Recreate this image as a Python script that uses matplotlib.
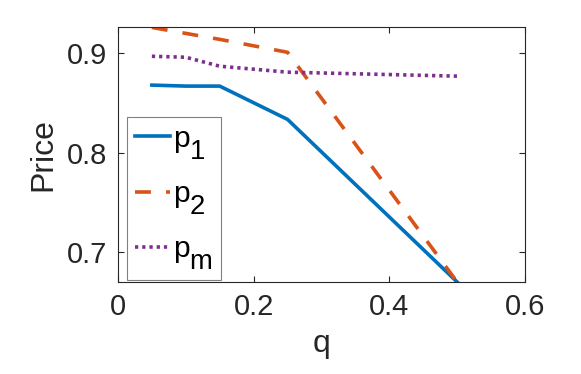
import numpy as np
import matplotlib
matplotlib.use("Agg")
import matplotlib.pyplot as plt
import matplotlib._mathtext as mt

plt.rcParams['font.family'] = ['Liberation Sans', 'DejaVu Sans']
plt.rcParams['mathtext.fontset'] = 'custom'
plt.rcParams['mathtext.rm'] = 'Liberation Sans'
plt.rcParams['mathtext.it'] = 'Liberation Sans'
plt.rcParams['mathtext.default'] = 'regular'

# MATLAB-like subscripts: nearly full size, dropped low
mt.SHRINK_FACTOR = 0.92
mt.FontConstantsBase.sub1 = 0.8
mt.FontConstantsBase.sub2 = 0.8

## data
q = np.array([0.05, 0.10, 0.15, 0.25, 0.50])
p1 = np.array([0.868, 0.867, 0.867, 0.8335, 0.670])
p2 = np.array([0.926, 0.920, 0.914, 0.901, 0.670])
pm = np.array([0.897, 0.896, 0.887, 0.881, 0.877])
labels = ['p$_1$', 'p$_2$', 'p$_m$']

c_blue = '#0072BD'
c_orange = '#D95319'
c_purple = '#7E2F8E'
c_axis = '#262626'

fig = plt.figure(figsize=(5.81, 3.74), dpi=100)
ax = fig.add_axes([0.203, 0.246, 0.7006, 0.682])

ax.plot(q, p1, color=c_blue, lw=2.6, label=labels[0])
ax.plot(q, p2, color=c_orange, lw=2.6, dashes=(4.4, 4.2), label=labels[1])
ax.plot(q, pm, color=c_purple, lw=2.6, dashes=(0.9, 1.1), label=labels[2])

ax.set_xlim(0, 0.6)
ax.set_ylim(0.670, 0.9265)
ax.set_xticks([0, 0.2, 0.4, 0.6])
ax.set_xticklabels(['0', '0.2', '0.4', '0.6'])
ax.set_yticks([0.7, 0.8, 0.9])

ax.tick_params(direction='in', length=4, width=0.8, colors=c_axis,
               labelsize=21, top=True, right=True, pad=8)
for s in ax.spines.values():
    s.set_color(c_axis)
    s.set_linewidth(0.8)

ax.set_xlabel('q', fontsize=23, color=c_axis, labelpad=6)
ax.set_ylabel('Price', fontsize=23, color=c_axis, labelpad=6)

leg = ax.legend(loc='lower left', bbox_to_anchor=(0.022, 0.008), borderaxespad=0,
                fontsize=21.5, handlelength=1.2, handletextpad=0.1,
                labelspacing=0.62, borderpad=0.26, fancybox=False, framealpha=1)
leg.get_frame().set_edgecolor('#808080')
leg.get_frame().set_linewidth(0.8)

fig.savefig('out.png', dpi=100)
